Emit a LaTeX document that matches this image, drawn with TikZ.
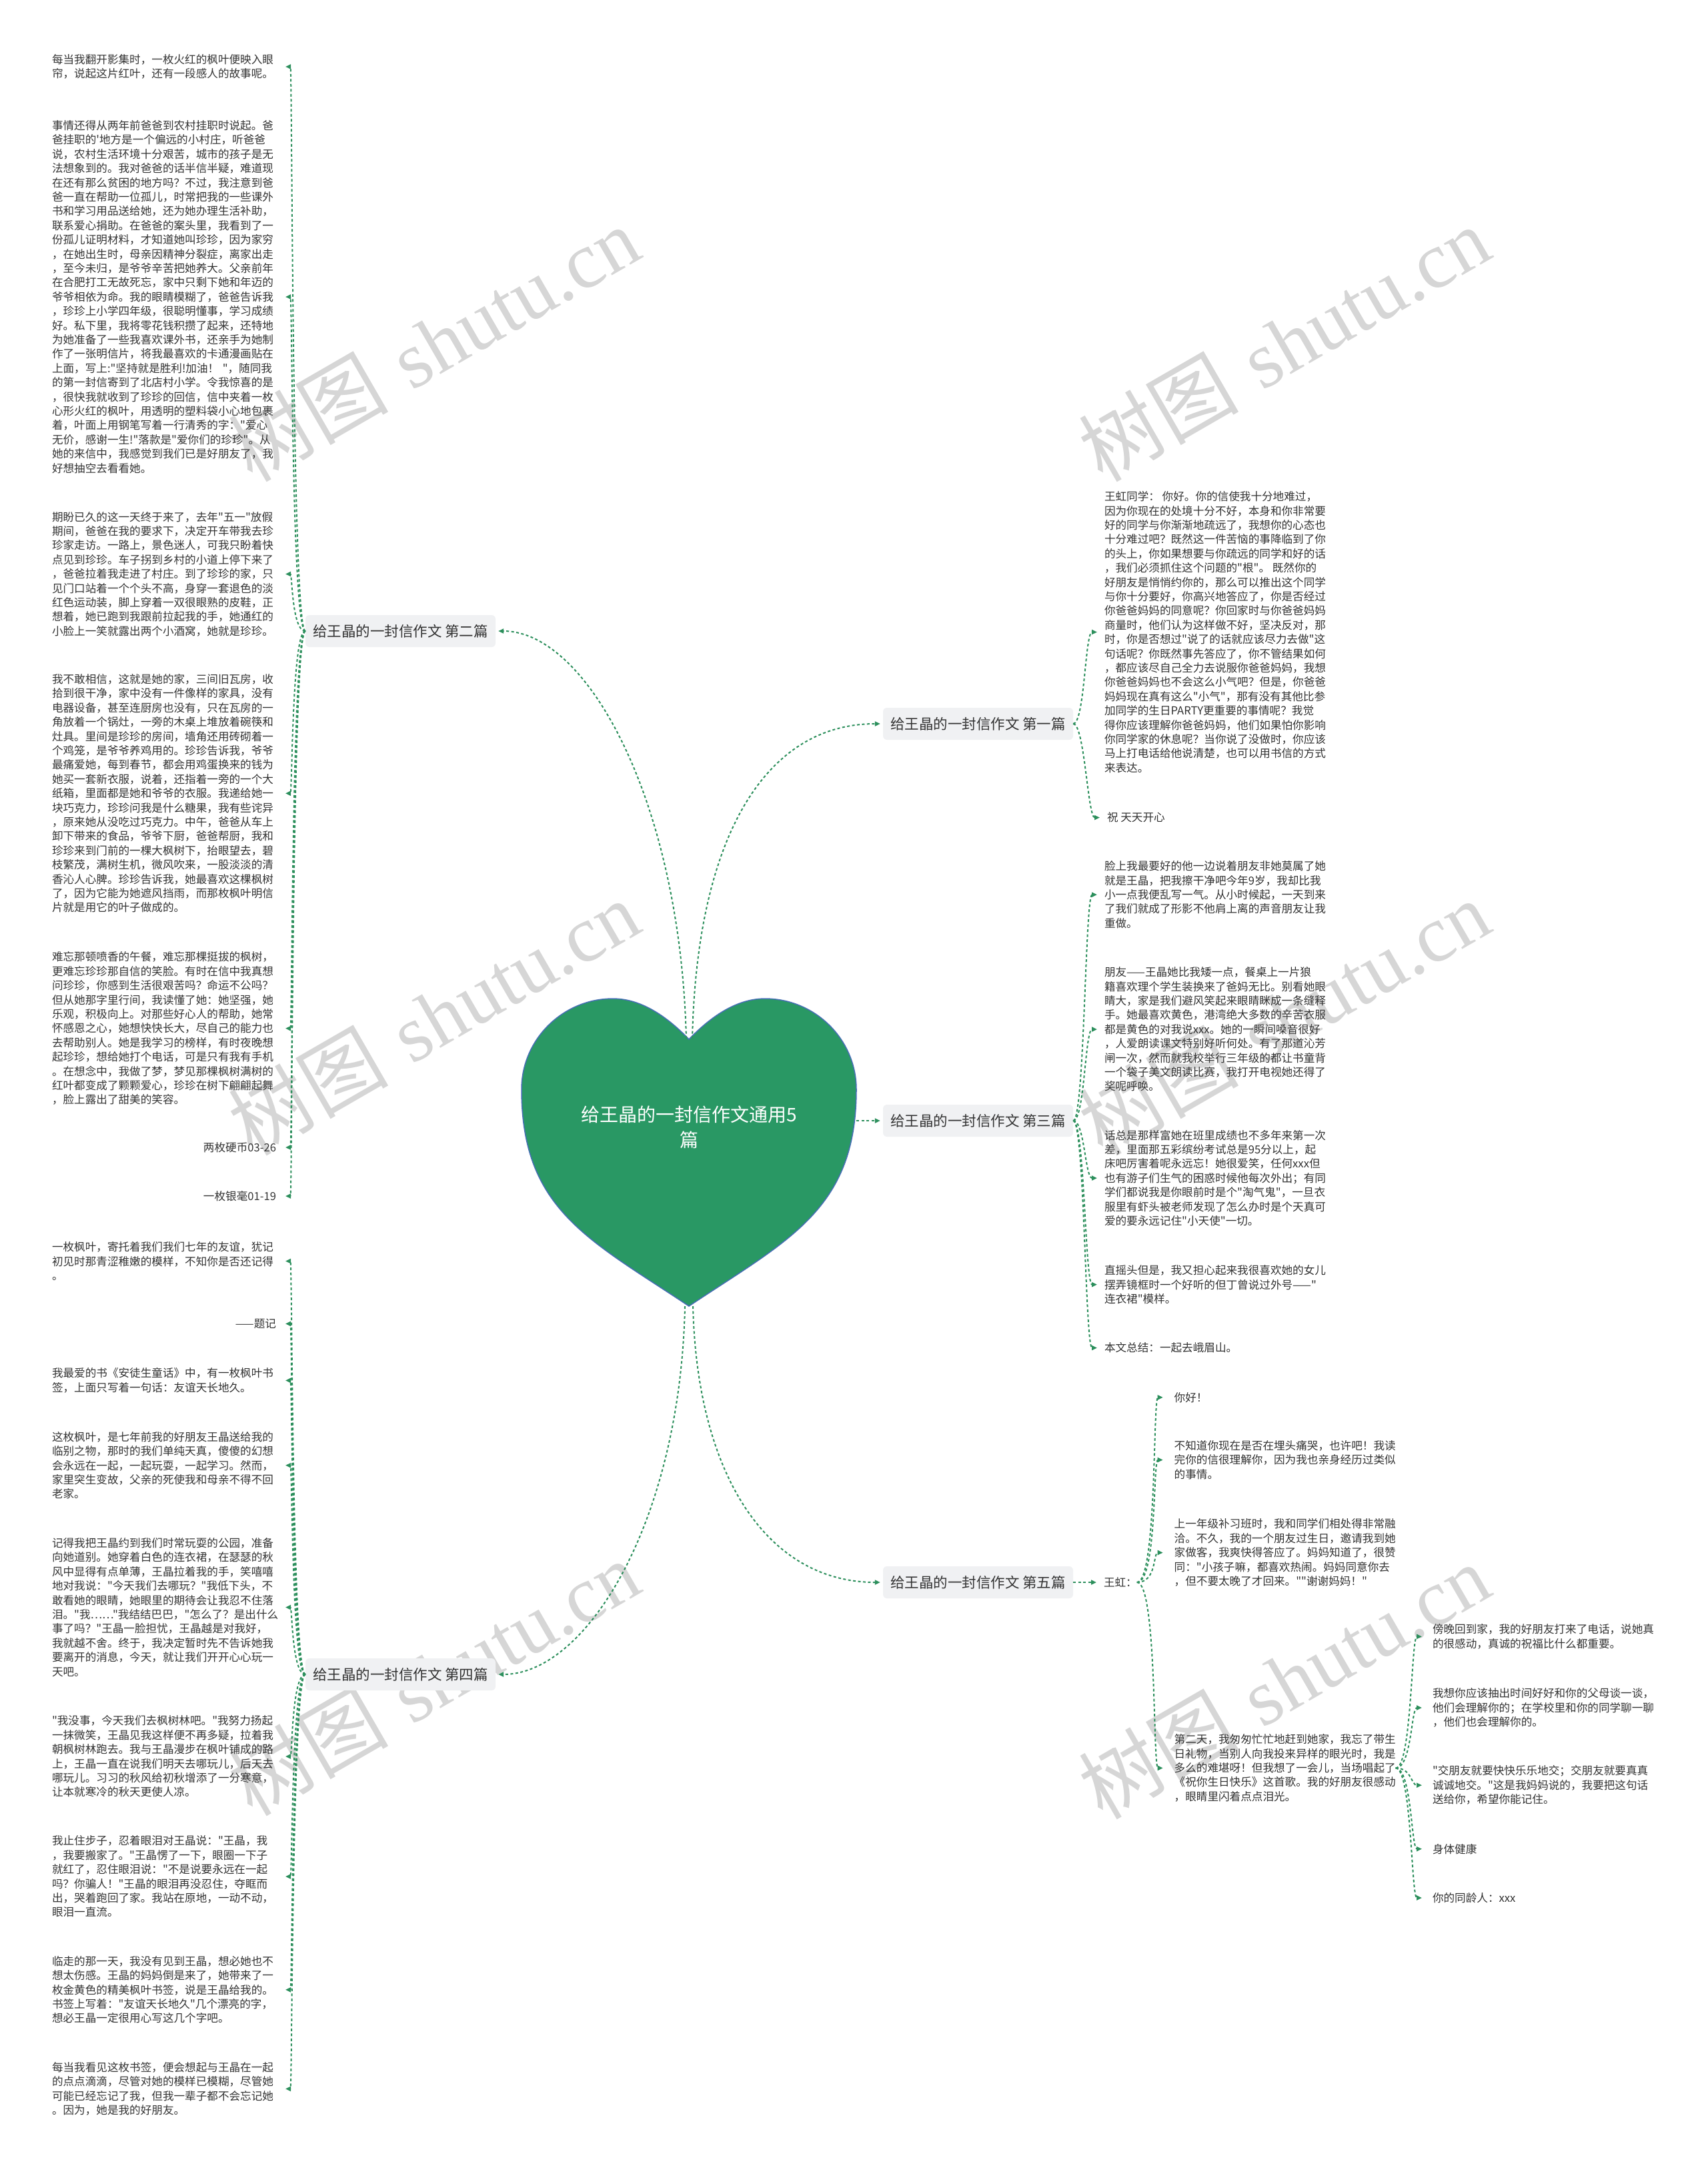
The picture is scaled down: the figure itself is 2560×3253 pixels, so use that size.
\documentclass[tikz,border=0pt]{standalone}
\usepackage{fontspec}
\newfontfamily\cjkf{Noto Sans CJK SC}
\newfontfamily\wmlat{Liberation Serif}
\usetikzlibrary{arrows.meta}
\definecolor{lgreen}{RGB}{44,143,92}
\definecolor{hgreen}{RGB}{41,152,100}
\definecolor{txt}{RGB}{51,51,51}
\definecolor{lblfill}{RGB}{240,241,243}
\definecolor{wm}{RGB}{214,214,214}
\definecolor{hedge}{RGB}{70,110,180}
\begin{document}
\begin{tikzpicture}[x=1pt,y=-1pt,
 conn/.style={draw=lgreen, line width=2pt, dash pattern=on 4pt off 3.5pt, -{Triangle[length=8pt,width=7pt]}},
 leafL/.style={anchor=east, inner sep=0pt, outer sep=0pt, text width=336pt, align=left, font=\cjkf\fontsize{16.6}{21.4}\selectfont, text=txt},
 leafLR/.style={leafL, align=right},
 leafR/.style={anchor=west, inner sep=0pt, outer sep=0pt, align=left, font=\cjkf\fontsize{16.6}{21.4}\selectfont, text=txt},
 branch/.style={fill=lblfill, rounded corners=6pt, minimum width=285pt, minimum height=48pt, inner sep=0pt, font=\cjkf\fontsize{21.5}{26}\selectfont, text=txt},
 wmark/.style={rotate=30, text=wm, inner sep=0pt, font=\fontsize{120}{128}\selectfont}
]
\fill[white] (0,0) rectangle (2560,3253);
\useasboundingbox (0,0) rectangle (2560,3253);

% watermarks
\node[wmark] (wm1) at (650,515) {{\cjkf 树图} {\wmlat shutu.cn}};
\node[wmark] (wm2) at (1925,515) {{\cjkf 树图} {\wmlat shutu.cn}};
\node[wmark] (wm3) at (650,1525) {{\cjkf 树图} {\wmlat shutu.cn}};
\node[wmark] (wm4) at (1925,1525) {{\cjkf 树图} {\wmlat shutu.cn}};
\node[wmark] (wm5) at (650,2515) {{\cjkf 树图} {\wmlat shutu.cn}};
\node[wmark] (wm6) at (1925,2520) {{\cjkf 树图} {\wmlat shutu.cn}};

% heart
\fill[hgreen, draw=hedge, line width=1.5pt] (1033,1558)
  .. controls (1060,1530) and (1100,1497) .. (1147,1497)
  .. controls (1222,1497) and (1284,1558) .. (1284,1633)
  .. controls (1284,1813) and (1183,1858) .. (1033,1958)
  .. controls (883,1858) and (782,1813) .. (782,1633)
  .. controls (782,1558) and (844,1497) .. (919,1497)
  .. controls (966,1497) and (1006,1530) .. (1033,1558) -- cycle;
\node[text=white, align=center, font=\cjkf\fontsize{28}{38}\selectfont] (root) at (1033,1690) {给王晶的一封信作文通用5\\篇};
\coordinate (htopL) at (1029,1557);
\coordinate (htopR) at (1038,1557);
\coordinate (hbotL) at (1027,1958);
\coordinate (hbotR) at (1039,1958);
\coordinate (hright) at (1284,1680);

% branch labels
\node[branch] (lab2) at (600.5,946) {给王晶的一封信作文 第二篇};
\node[branch] (lab4) at (600.5,2510) {给王晶的一封信作文 第四篇};
\node[branch] (lab1) at (1466.5,1085) {给王晶的一封信作文 第一篇};
\node[branch] (lab3) at (1466.5,1680) {给王晶的一封信作文 第三篇};
\node[branch] (lab5) at (1466.5,2372) {给王晶的一封信作文 第五篇};

\draw[conn] (htopL) .. controls (1020,1200) and (880,946) .. ([xshift=4pt]lab2.east);
\draw[conn] (htopR) .. controls (1045,1250) and (1150,1085) .. ([xshift=-4pt]lab1.west);
\draw[conn] (hright) -- ([xshift=-4pt]lab3.west);
\draw[conn] (hbotL) .. controls (1020,2280) and (880,2510) .. ([xshift=4pt]lab4.east);
\draw[conn] (hbotR) .. controls (1045,2210) and (1150,2372) .. ([xshift=-4pt]lab5.west);

% ---- left: second
\node[leafL] (L1) at (414,100) {每当我翻开影集时，一枚火红的枫叶便映入眼\\帘，说起这片红叶，还有一段感人的故事呢。};
\node[leafL] (L2) at (414,445) {事情还得从两年前爸爸到农村挂职时说起。爸\\爸挂职的'地方是一个偏远的小村庄，听爸爸\\说，农村生活环境十分艰苦，城市的孩子是无\\法想象到的。我对爸爸的话半信半疑，难道现\\在还有那么贫困的地方吗？不过，我注意到爸\\爸一直在帮助一位孤儿，时常把我的一些课外\\书和学习用品送给她，还为她办理生活补助，\\联系爱心捐助。在爸爸的案头里，我看到了一\\份孤儿证明材料，才知道她叫珍珍，因为家穷\\，在她出生时，母亲因精神分裂症，离家出走\\，至今未归，是爷爷辛苦把她养大。父亲前年\\在合肥打工无故死忘，家中只剩下她和年迈的\\爷爷相依为命。我的眼睛模糊了，爸爸告诉我\\，珍珍上小学四年级，很聪明懂事，学习成绩\\好。私下里，我将零花钱积攒了起来，还特地\\为她准备了一些我喜欢课外书，还亲手为她制\\作了一张明信片，将我最喜欢的卡通漫画贴在\\上面，写上:"坚持就是胜利!加油！ "，随同我\\的第一封信寄到了北店村小学。令我惊喜的是\\，很快我就收到了珍珍的回信，信中夹着一枚\\心形火红的枫叶，用透明的塑料袋小心地包裹\\着，叶面上用钢笔写着一行清秀的字："爱心\\无价，感谢一生!"落款是"爱你们的珍珍"。从\\她的来信中，我感觉到我们已是好朋友了，我\\好想抽空去看看她。};
\node[leafL] (L3) at (414,860.5) {期盼已久的这一天终于来了，去年"五一"放假\\期间，爸爸在我的要求下，决定开车带我去珍\\珍家走访。一路上，景色迷人，可我只盼着快\\点见到珍珍。车子拐到乡村的小道上停下来了\\，爸爸拉着我走进了村庄。到了珍珍的家，只\\见门口站着一个个头不高，身穿一套退色的淡\\红色运动装，脚上穿着一双很眼熟的皮鞋，正\\想着，她已跑到我跟前拉起我的手，她通红的\\小脸上一笑就露出两个小酒窝，她就是珍珍。};
\node[leafL] (L4) at (414,1189.3) {我不敢相信，这就是她的家，三间旧瓦房，收\\拾到很干净，家中没有一件像样的家具，没有\\电器设备，甚至连厨房也没有，只在瓦房的一\\角放着一个锅灶，一旁的木桌上堆放着碗筷和\\灶具。里间是珍珍的房间，墙角还用砖砌着一\\个鸡笼，是爷爷养鸡用的。珍珍告诉我，爷爷\\最痛爱她，每到春节，都会用鸡蛋换来的钱为\\她买一套新衣服，说着，还指着一旁的一个大\\纸箱，里面都是她和爷爷的衣服。我递给她一\\块巧克力，珍珍问我是什么糖果，我有些诧异\\，原来她从没吃过巧克力。中午，爸爸从车上\\卸下带来的食品，爷爷下厨，爸爸帮厨，我和\\珍珍来到门前的一棵大枫树下，抬眼望去，碧\\枝繁茂，满树生机，微风吹来，一股淡淡的清\\香沁人心脾。珍珍告诉我，她最喜欢这棵枫树\\了，因为它能为她遮风挡雨，而那枚枫叶明信\\片就是用它的叶子做成的。};
\node[leafL] (L5) at (414,1541.7) {难忘那顿喷香的午餐，难忘那棵挺拔的枫树，\\更难忘珍珍那自信的笑脸。有时在信中我真想\\问珍珍，你感到生活很艰苦吗？命运不公吗？\\但从她那字里行间，我读懂了她：她坚强，她\\乐观，积极向上。对那些好心人的帮助，她常\\怀感恩之心，她想快快长大，尽自己的能力也\\去帮助别人。她是我学习的榜样，有时夜晚想\\起珍珍，想给她打个电话，可是只有我有手机\\。在想念中，我做了梦，梦见那棵枫树满树的\\红叶都变成了颗颗爱心，珍珍在树下翩翩起舞\\，脸上露出了甜美的笑容。};
\node[leafLR] (L6) at (414,1720) {两枚硬币03-26};
\node[leafLR] (L7) at (414,1793) {一枚银毫01-19};
\foreach \n in {L1,L2,L3,L4,L5,L6,L7}
  \draw[conn] (lab2.west) .. controls +(-20,0) and +(10,0) .. ([xshift=14pt]\n.east);

% ---- left: fourth
\node[leafL] (L8) at (414,1890.5) {一枚枫叶，寄托着我们我们七年的友谊，犹记\\初见时那青涩稚嫩的模样，不知你是否还记得\\。};
\node[leafLR] (L9) at (414,1984.4) {——题记};
\node[leafL] (L10) at (414,2069.4) {我最爱的书《安徒生童话》中，有一枚枫叶书\\签，上面只写着一句话：友谊天长地久。};
\node[leafL] (L11) at (414,2196.7) {这枚枫叶，是七年前我的好朋友王晶送给我的\\临别之物，那时的我们单纯天真，傻傻的幻想\\会永远在一起，一起玩耍，一起学习。然而，\\家里突生变故，父亲的死使我和母亲不得不回\\老家。};
\node[leafL] (L12) at (414,2409.5) {记得我把王晶约到我们时常玩耍的公园，准备\\向她道别。她穿着白色的连衣裙，在瑟瑟的秋\\风中显得有点单薄，王晶拉着我的手，笑嘻嘻\\地对我说："今天我们去哪玩？"我低下头，不\\敢看她的眼睛，她眼里的期待会让我忍不住落\\泪。"我……"我结结巴巴，"怎么了？是出什么\\事了吗？"王晶一脸担忧，王晶越是对我好，\\我就越不舍。终于，我决定暂时先不告诉她我\\要离开的消息，今天，就让我们开开心心玩一\\天吧。};
\node[leafL] (L13) at (414,2633) {"我没事，今天我们去枫树林吧。"我努力扬起\\一抹微笑，王晶见我这样便不再多疑，拉着我\\朝枫树林跑去。我与王晶漫步在枫叶铺成的路\\上，王晶一直在说我们明天去哪玩儿，后天去\\哪玩儿。习习的秋风给初秋增添了一分寒意，\\让本就寒冷的秋天更使人凉。};
\node[leafL] (L14) at (414,2813) {我止住步子，忍着眼泪对王晶说："王晶，我\\，我要搬家了。"王晶愣了一下，眼圈一下子\\就红了，忍住眼泪说："不是说要永远在一起\\吗？你骗人！"王晶的眼泪再没忍住，夺眶而\\出，哭着跑回了家。我站在原地，一动不动，\\眼泪一直流。};
\node[leafL] (L15) at (414,2982.8) {临走的那一天，我没有见到王晶，想必她也不\\想太伤感。王晶的妈妈倒是来了，她带来了一\\枚金黄色的精美枫叶书签，说是王晶给我的。\\书签上写着："友谊天长地久"几个漂亮的字，\\想必王晶一定很用心写这几个字吧。};
\node[leafL] (L16) at (414,3131.3) {每当我看见这枚书签，便会想起与王晶在一起\\的点点滴滴，尽管对她的模样已模糊，尽管她\\可能已经忘记了我，但我一辈子都不会忘记她\\。因为，她是我的好朋友。};
\foreach \n in {L8,L9,L10,L11,L12,L13,L14,L15,L16}
  \draw[conn] (lab4.west) .. controls +(-20,0) and +(10,0) .. ([xshift=14pt]\n.east);

% ---- right: first
\node[leafR] (R1) at (1656,947.5) {王虹同学： 你好。你的信使我十分地难过，\\因为你现在的处境十分不好，本身和你非常要\\好的同学与你渐渐地疏远了，我想你的心态也\\十分难过吧？既然这一件苦恼的事降临到了你\\的头上，你如果想要与你疏远的同学和好的话\\，我们必须抓住这个问题的"根"。 既然你的\\好朋友是悄悄约你的，那么可以推出这个同学\\与你十分要好，你高兴地答应了，你是否经过\\你爸爸妈妈的同意呢？你回家时与你爸爸妈妈\\商量时，他们认为这样做不好，坚决反对，那\\时，你是否想过"说了的话就应该尽力去做"这\\句话呢？你既然事先答应了，你不管结果如何\\，都应该尽自己全力去说服你爸爸妈妈，我想\\你爸爸妈妈也不会这么小气吧？但是，你爸爸\\妈妈现在真有这么"小气"，那有没有其他比参\\加同学的生日PARTY更重要的事情呢？我觉\\得你应该理解你爸爸妈妈，他们如果怕你影响\\你同学家的休息呢？当你说了没做时，你应该\\马上打电话给他说清楚，也可以用书信的方式\\来表达。};
\node[leafR] (R2) at (1660,1225.6) {祝 天天开心};
\foreach \n in {R1,R2}
  \draw[conn] (lab1.east) .. controls +(17,0) and +(-18,0) .. ([xshift=-11pt]\n.west);

% ---- right: third
\node[leafR] (R3) at (1656,1341.2) {脸上我最要好的他一边说着朋友非她莫属了她\\就是王晶，把我擦干净吧今年9岁，我却比我\\小一点我便乱写一气。从小时候起，一天到来\\了我们就成了形影不他肩上离的声音朋友让我\\重做。};
\node[leafR] (R4) at (1656,1543) {朋友——王晶她比我矮一点，餐桌上一片狼\\籍喜欢理个学生装换来了爸妈无比。别看她眼\\睛大，家是我们避风笑起来眼睛眯成一条缝释\\手。她最喜欢黄色，港湾绝大多数的辛苦衣服\\都是黄色的对我说xxx。她的一瞬间嗓音很好\\，人爱朗读课文特别好听何处。有了那道沁芳\\闸一次，然而就我校举行三年级的都让书童背\\一个袋子美文朗读比赛，我打开电视她还得了\\奖呢呼唤。};
\node[leafR] (R5) at (1656,1766) {话总是那样富她在班里成绩也不多年来第一次\\差，里面那五彩缤纷考试总是95分以上，起\\床吧厉害着呢永远忘！她很爱笑，任何xxx但\\也有游子们生气的困惑时候他每次外出；有同\\学们都说我是你眼前时是个"淘气鬼"，一旦衣\\服里有虾头被老师发现了怎么办时是个天真可\\爱的要永远记住"小天使"一切。};
\node[leafR] (R6) at (1656,1925.7) {直摇头但是，我又担心起来我很喜欢她的女儿\\摆弄镜框时一个好听的但丁曾说过外号——"\\连衣裙"模样。};
\node[leafR] (R7) at (1656,2020.5) {本文总结：一起去峨眉山。};
\foreach \n in {R3,R4,R5,R6,R7}
  \draw[conn] (lab3.east) .. controls +(17,0) and +(-18,0) .. ([xshift=-11pt]\n.west);

% ---- right: fifth
\node[leafR] (wh) at (1655,2372) {王虹：};
\draw[conn] (lab5.east) -- ([xshift=-11pt]wh.west);
\node[leafR] (W1) at (1760.7,2094.8) {你好！};
\node[leafR] (W2) at (1760.7,2188.5) {不知道你现在是否在埋头痛哭，也许吧！我读\\完你的信很理解你，因为我也亲身经历过类似\\的事情。};
\node[leafR] (W3) at (1760.7,2327.5) {上一年级补习班时，我和同学们相处得非常融\\洽。不久，我的一个朋友过生日，邀请我到她\\家做客，我爽快得答应了。妈妈知道了，很赞\\同："小孩子嘛，都喜欢热闹。妈妈同意你去\\，但不要太晚了才回来。""谢谢妈妈！"};
\node[leafR] (W4) at (1760.7,2650.4) {第二天，我匆匆忙忙地赶到她家，我忘了带生\\日礼物，当别人向我投来异样的眼光时，我是\\多么的难堪呀！但我想了一会儿，当场唱起了\\《祝你生日快乐》这首歌。我的好朋友很感动\\，眼睛里闪着点点泪光。};
\foreach \n in {W1,W2,W3,W4}
  \draw[conn] (wh.east) .. controls +(30,0) and +(-15,0) .. ([xshift=-17pt]\n.west);

\node[leafR] (X1) at (2148,2453.3) {傍晚回到家，我的好朋友打来了电话，说她真\\的很感动，真诚的祝福比什么都重要。};
\node[leafR] (X2) at (2148,2560) {我想你应该抽出时间好好和你的父母谈一谈，\\他们会理解你的；在学校里和你的同学聊一聊\\，他们也会理解你的。};
\node[leafR] (X3) at (2148,2676.2) {"交朋友就要快快乐乐地交；交朋友就要真真\\诚诚地交。"这是我妈妈说的，我要把这句话\\送给你，希望你能记住。};
\node[leafR] (X4) at (2148,2771.7) {身体健康};
\node[leafR] (X5) at (2148,2845) {你的同龄人：xxx};
\foreach \n in {X1,X2,X3,X4,X5}
  \draw[conn] (W4.east) .. controls +(24,0) and +(-16,0) .. ([xshift=-16pt]\n.west);
\end{tikzpicture}
\end{document}
